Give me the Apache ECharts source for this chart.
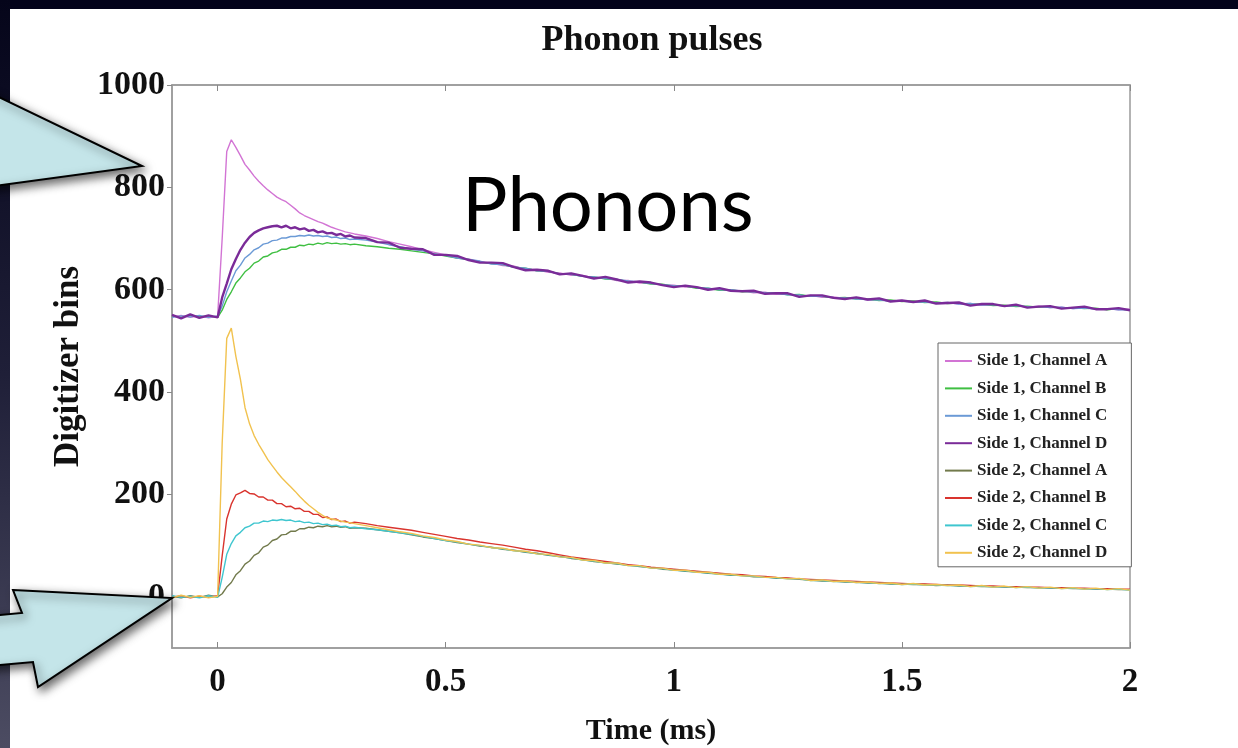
<!DOCTYPE html>
<html>
<head>
<meta charset="utf-8">
<script src="https://cdn.jsdelivr.net/npm/echarts@6/dist/echarts.min.js"></script>
<style>html,body{margin:0;padding:0;background:#fff;}#c{width:1238px;height:748px;}</style>
</head>
<body>
<div id="c"></div>
<script>
// time axis (ms)
const times = [-0.1,-0.08,-0.06,-0.04,-0.02,0,
0.01,0.02,0.03,0.04,0.05,0.06,0.07,0.08,0.09,0.10,
0.11,0.12,0.13,0.14,0.15,0.16,0.17,0.18,0.19,0.20,
0.21,0.22,0.23,0.24,0.25,0.26,0.27,0.28,0.29,0.30,
0.325,0.35,0.375,0.4,0.425,0.45,0.475,0.5,0.525,0.55,
0.575,0.6,0.625,0.65,0.675,0.7,0.725,0.75,0.775,0.8,
0.825,0.85,0.875,0.9,0.925,0.95,0.975,1.0,1.025,1.05,
1.075,1.1,1.125,1.15,1.175,1.2,1.225,1.25,1.275,1.3,
1.325,1.35,1.375,1.4,1.425,1.45,1.475,1.5,1.525,1.55,
1.575,1.6,1.625,1.65,1.675,1.7,1.725,1.75,1.775,1.8,
1.825,1.85,1.875,1.9,1.925,1.95,1.975,2.0];

const side1A = [547,550,546,549,545,548,
700,870,893,878,862,845,834,822,812,803,
795,788,781,776,772,765,758,750,745,741,
737,733,730,726,722,719,716,713,711,709,
705,700,694,689,684,678,673,668,662,660,
655,652,647,646,640,639,634,633,628,628,
623,623,618,618,613,613,609,609,605,605,
601,601,598,598,594,595,591,592,588,589,
585,586,583,584,580,581,578,579,576,577,
574,575,572,573,570,571,568,569,566,568,
565,566,563,565,562,563,561,562];

const side1B = [549,546,550,547,549,546,
560,581,596,613,623,635,642,652,656,664,
666,672,674,679,679,683,683,687,686,689,
688,691,689,692,690,691,689,690,688,689,
686,684,681,679,676,673,670,666,662,659,
654,651,649,644,642,637,636,631,630,626,
625,621,620,616,615,611,611,607,607,603,
603,599,600,596,597,593,594,590,591,587,
587,584,585,582,582,579,580,577,578,575,
576,573,574,571,572,569,570,567,568,566,
567,564,565,563,564,561,563,560];

const side1C = [546,549,547,550,546,549,
568,596,617,637,648,662,669,678,682,689,
691,696,697,701,701,704,704,706,705,707,
705,706,704,705,702,703,700,701,698,699,
697,693,688,684,679,676,670,667,662,659,
656,650,649,644,642,637,636,631,630,626,
625,622,620,617,615,612,610,608,607,604,
603,600,600,597,596,594,593,590,590,587,
587,585,584,582,581,580,578,578,576,576,
574,575,572,573,570,571,568,569,567,567,
565,566,563,564,562,563,561,561];

const side1D = [551,544,552,545,550,546,
585,612,640,660,678,692,703,711,716,720,
722,724,725,722,725,720,722,718,720,715,
717,712,714,710,711,707,709,704,706,702,
701,693,692,682,680,679,668,668,666,658,
653,653,652,644,638,639,637,630,632,627,
622,625,620,614,616,614,609,605,608,605,
600,603,598,597,598,592,593,593,586,589,
589,584,582,585,581,583,577,579,576,579,
573,574,575,569,572,572,568,571,565,567,
568,563,565,567,562,562,564,560];

const side2A = [1,-2,2,-1,3,0,
6,19,28,43,51,64,70,81,86,97,
101,110,113,121,122,128,128,133,133,136,
135,138,137,139,137,138,136,137,134,135,
134,131,128,125,121,117,114,110,106,103,
99,97,93,91,87,85,81,79,75,73,
69,67,64,62,59,57,54,53,50,49,
46,45,42,42,39,39,36,36,34,33,
31,31,29,29,27,27,25,25,24,24,
22,23,21,21,20,20,19,19,18,18,
17,17,16,16,15,15,14,14];

const side2B = [-1,2,-2,1,-1,2,
80,152,181,199,203,208,202,201,195,195,
189,189,182,182,176,177,172,173,167,167,
161,161,155,156,151,152,147,148,144,146,
143,139,136,133,130,126,122,118,114,111,
107,104,101,97,93,90,86,82,78,75,
72,69,66,63,61,58,56,54,52,50,
48,46,44,43,41,40,38,37,35,34,
33,32,31,30,29,28,27,26,25,25,
24,23,23,22,21,21,20,20,19,19,
18,18,17,17,16,16,15,15];

const side2C = [2,-1,1,-2,2,-1,
38,83,104,119,126,135,138,144,144,148,
147,150,149,151,149,150,147,148,145,146,
143,144,141,142,139,140,137,138,135,136,
133,131,128,125,122,118,114,110,107,103,
100,96,94,90,88,84,82,78,76,72,
70,66,65,61,60,56,55,52,51,48,
47,44,43,41,40,38,37,35,35,32,
32,30,30,28,28,26,26,24,25,23,
23,22,22,20,21,19,20,18,19,17,
18,16,17,15,16,14,15,13];

const side2D = [-2,3,-1,2,-2,1,
300,505,525,470,425,370,338,315,298,283,
268,256,244,233,224,215,206,196,187,179,
172,165,159,154,152,150,148,146,145,143,
139,135,131,127,124,119,116,111,108,103,
101,96,95,90,89,84,83,78,77,72,
71,66,66,61,61,56,56,52,52,48,
48,44,44,41,41,38,38,35,36,32,
33,30,31,28,29,26,27,24,26,23,
24,22,23,20,22,19,21,18,20,17,
19,16,18,15,17,14,16,13];

const seriesNames = ['Side 1, Channel A','Side 1, Channel B','Side 1, Channel C','Side 1, Channel D',
                     'Side 2, Channel A','Side 2, Channel B','Side 2, Channel C','Side 2, Channel D'];
const seriesValues = [side1A, side1B, side1C, side1D, side2A, side2B, side2C, side2D];
const xTickValues = [0, 0.5, 1, 1.5, 2];
const yTickValues = [0, 200, 400, 600, 800, 1000];

const colors = ['#d274d4','#3fbf42','#6b9ad6','#7a2b98','#727a4c','#d9342e','#3fc6cf','#f1c24f'];
const widths = [1.4,1.4,1.4,2.4,1.4,1.4,1.4,1.4];
const serifBold = {fontFamily:'Liberation Serif', fontWeight:'bold', color:'#111'};

const chart = echarts.init(document.getElementById('c'), null, {renderer:'canvas'});

const series = seriesNames.map((n, k) => ({
  name: n,
  type: 'line',
  symbol: 'none',
  showSymbol: false,
  data: times.map((t, i) => [t, seriesValues[k][i]]),
  lineStyle: {color: colors[k], width: widths[k]},
  itemStyle: {color: colors[k]},
  z: 3 + k
}));

const arrowStyle = {
  fill: '#c4e5e9', stroke: '#000', lineWidth: 2,
  shadowBlur: 10, shadowColor: 'rgba(0,0,0,0.6)', shadowOffsetX: 3, shadowOffsetY: 4
};

const axisLineStyle = {show: true, onZero: false, lineStyle: {color: '#9a9a9a', width: 1.5}};

chart.setOption({
  animation: false,
  backgroundColor: '#ffffff',
  title: {
    text: 'Phonon pulses', left: 647, top: 18, textAlign: 'center',
    textStyle: Object.assign({fontSize: 36}, serifBold)
  },
  grid: {left: 172, right: 108, top: 85, bottom: 100, show: true, borderColor: '#9a9a9a', borderWidth: 1.5,
         containLabel: false, outerBoundsMode: 'none'},
  legend: {
    orient: 'vertical', left: 938, top: 343,
    data: seriesNames,
    icon: 'rect',
    itemWidth: 27, itemHeight: 2, itemGap: 10.4,
    padding: [9.5, 24, 5.5, 7],
    backgroundColor: '#ffffff', borderColor: '#666', borderWidth: 1,
    textStyle: Object.assign({fontSize: 17, lineHeight: 17}, serifBold, {color: '#222'})
  },
  xAxis: [{
    type: 'value', min: -0.1, max: 2, position: 'bottom',
    axisLine: axisLineStyle,
    axisTick: {show: true, inside: true, length: 6, customValues: xTickValues, lineStyle: {color: '#888'}},
    axisLabel: Object.assign({customValues: xTickValues, margin: 18, fontSize: 33, formatter: v => String(v)}, serifBold),
    splitLine: {show: false},
    name: 'Time (ms)', nameLocation: 'middle', nameGap: 68,
    nameTextStyle: Object.assign({fontSize: 30}, serifBold)
  }, {
    type: 'value', min: -0.1, max: 2, position: 'top',
    axisLine: axisLineStyle,
    axisTick: {show: true, inside: true, length: 6, customValues: xTickValues, lineStyle: {color: '#888'}},
    axisLabel: {show: false},
    splitLine: {show: false}
  }],
  yAxis: [{
    type: 'value', min: -100, max: 1000,
    axisLine: axisLineStyle,
    axisTick: {show: true, inside: false, length: 5, customValues: yTickValues, lineStyle: {color: '#888'}},
    axisLabel: Object.assign({customValues: yTickValues, margin: 7, fontSize: 34, formatter: v => String(v)}, serifBold),
    splitLine: {show: false},
    name: 'Digitizer bins', nameLocation: 'middle', nameGap: 82, nameRotate: 90,
    nameTextStyle: Object.assign({fontSize: 35}, serifBold)
  }],
  series: series,
  graphic: [
    {type: 'rect', shape: {x: 0, y: 0, width: 1238, height: 9}, style: {fill: '#03031a'}, z: 50},
    {type: 'rect', shape: {x: 0, y: 0, width: 10, height: 748},
     style: {fill: new echarts.graphic.LinearGradient(0, 0, 0, 1, [
       {offset: 0, color: '#05051a'}, {offset: 0.5, color: '#1f1f38'}, {offset: 1, color: '#4c4c62'}])}, z: 50},
    {type: 'text', x: 462, y: 206, z: 60,
     style: {text: 'Phonons', font: '76px Lato', fill: '#000', textAlign: 'left', textVerticalAlign: 'middle', align: 'left', verticalAlign: 'middle'}},
    {type: 'polygon', z: 100, shape: {points: [[-20, 88], [142, 166], [-20, 188]]}, style: arrowStyle},
    {type: 'polygon', z: 100, shape: {points: [[13, 590], [172, 598], [38, 687], [33, 662], [-20, 667], [-20, 617], [22, 613]]}, style: arrowStyle}
  ]
});
</script>
</body>
</html>
